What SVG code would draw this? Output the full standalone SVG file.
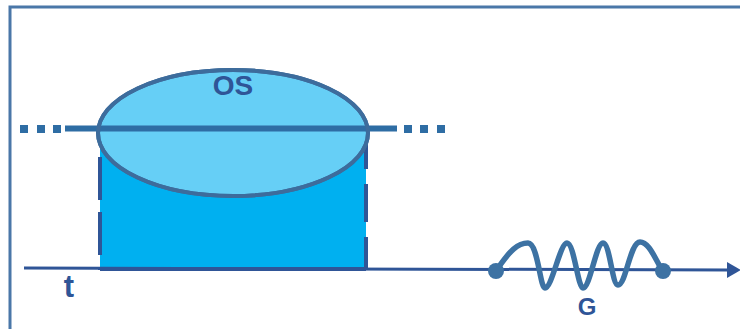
<svg xmlns="http://www.w3.org/2000/svg" width="740" height="329" viewBox="0 0 740 329">
<defs>
<style>
.txt{font-family:"Liberation Sans",Arial,sans-serif;font-weight:bold;fill:#2f5597}
.dash{stroke:#2f5597;stroke-width:4;fill:none}
.dot{fill:#2e6da4}
</style>
</defs>
<rect x="0" y="0" width="740" height="329" fill="#ffffff"/>
<g id="frame">
<rect x="10" y="7" width="760" height="340" fill="none" stroke="#4a77a8" stroke-width="3"/>
</g>
<g id="region">
<rect x="100" y="131" width="266" height="138" fill="#00b0f0"/>
<path class="dash" d="M100,157 V270" stroke-dasharray="43 12"/>
<path class="dash" d="M366,131 V270" stroke-dasharray="38 15"/>
</g>
<g id="connectors">
<line x1="24" y1="268" x2="729" y2="270" stroke="#2f5597" stroke-width="3"/>
<polygon points="727,262 741,270 727,278" fill="#2f5597"/>
<line x1="100" y1="269" x2="366" y2="269" stroke="#2f5597" stroke-width="4"/>
</g>
<g id="OS">
<ellipse cx="233" cy="133" rx="135" ry="63" fill="#66cff6" stroke="#3d6c9c" stroke-width="4"/>
<text class="txt" x="233" y="95" font-size="28" text-anchor="middle">OS</text>
</g>
<g id="level">
<rect class="dot" x="20" y="125" width="8" height="8"/>
<rect class="dot" x="37" y="125" width="8" height="8"/>
<rect class="dot" x="53" y="125" width="8" height="8"/>
<line x1="65" y1="128.5" x2="397" y2="128.5" stroke="#2e6da4" stroke-width="6"/>
<rect class="dot" x="404" y="125" width="8" height="8"/>
<rect class="dot" x="420" y="125" width="8" height="8"/>
<rect class="dot" x="437" y="125" width="8" height="8"/>
<ellipse cx="233" cy="133" rx="135" ry="63" fill="none" stroke="#3d6c9c" stroke-width="4"/>
</g>
<g id="t">
<text class="txt" x="69" y="297" font-size="31" text-anchor="middle">t</text>
</g>
<g id="G">
<path d="M496,271 C510,250 518,243 528,243 C538,243 540,288 545,288 C552,288 560,243 567,243 C574,243 578,288 583,288 C590,288 596,243 603,243 C610,243 612,285 618,285 C626,285 630,242 640,242 C650,242 656,262 663,271" fill="none" stroke="#3d72a3" stroke-width="5.5" stroke-linecap="round"/>
<circle cx="496" cy="271" r="8" fill="#3d72a3"/>
<circle cx="663" cy="271" r="8" fill="#3d72a3"/>
<text class="txt" x="587" y="315" font-size="24" text-anchor="middle">G</text>
</g>
</svg>
